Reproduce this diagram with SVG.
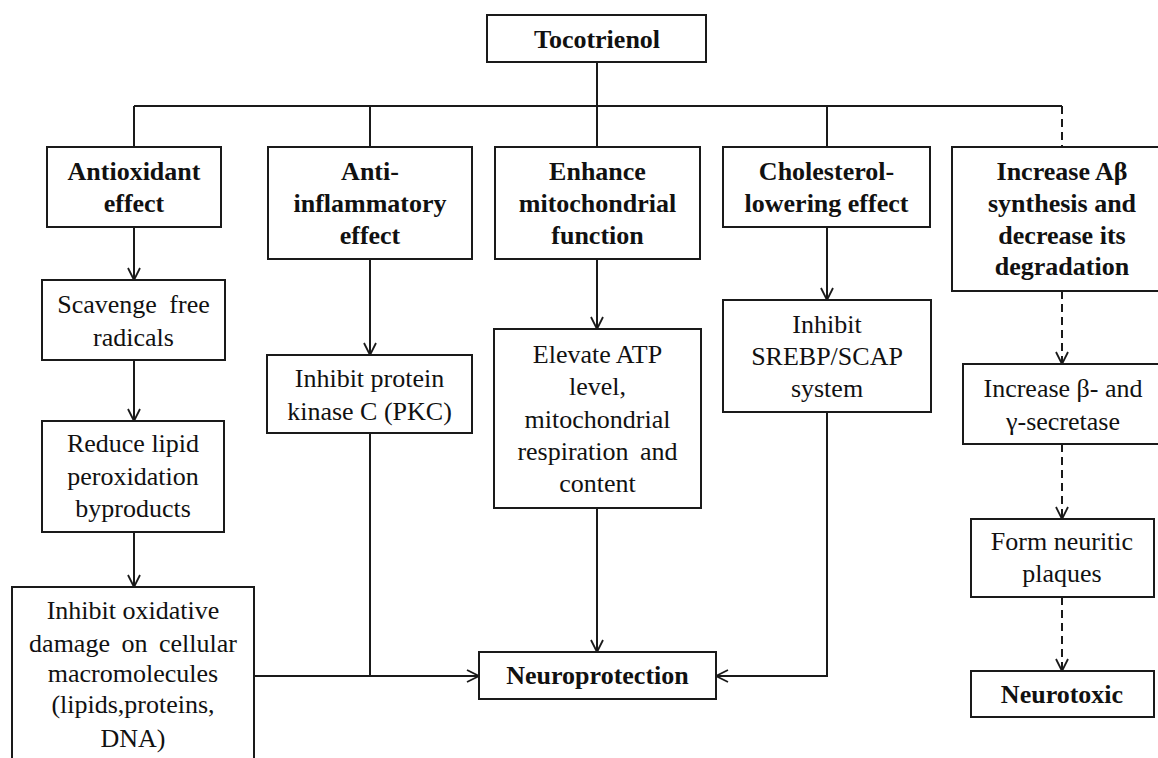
<svg xmlns="http://www.w3.org/2000/svg" width="1158" height="758" viewBox="0 0 1158 758">
  <style>
    .box { fill: #ffffff; stroke: #1a1a1a; stroke-width: 2; }
    .t { font-family: "Liberation Serif", "Times New Roman", serif; font-size: 26px; fill: #111; text-anchor: middle; }
    .b { font-weight: bold; }
    .ln { fill: none; stroke: #1a1a1a; stroke-width: 2; }
    .dash { stroke-dasharray: 8 5; }
  </style>
  <defs>
    <marker id="arr" viewBox="0 0 14 14" refX="13" refY="7" markerWidth="14" markerHeight="14" orient="auto" markerUnits="userSpaceOnUse">
      <path d="M1,1 L13,7 L1,13" fill="none" stroke="#1a1a1a" stroke-width="1.8" stroke-dasharray="none"/>
    </marker>
  </defs>
  <rect width="1158" height="758" fill="#ffffff"/>

  <g id="connectors">
    <path class="ln" d="M597,62 V106"/>
    <path class="ln" d="M134,106 H1062"/>
    <path class="ln" d="M134,106 V147"/>
    <path class="ln" d="M370,106 V147"/>
    <path class="ln" d="M597,106 V147"/>
    <path class="ln" d="M827,106 V147"/>
    <path class="ln dash" d="M1062,106 V147"/>
    <path class="ln" d="M134,227 V280" marker-end="url(#arr)"/>
    <path class="ln" d="M134,360 V421" marker-end="url(#arr)"/>
    <path class="ln" d="M134,532 V587" marker-end="url(#arr)"/>
    <path class="ln" d="M370,259 V355" marker-end="url(#arr)"/>
    <path class="ln" d="M370,433 V676"/>
    <path class="ln" d="M254,676 H479" marker-end="url(#arr)"/>
    <path class="ln" d="M597,259 V329" marker-end="url(#arr)"/>
    <path class="ln" d="M597,508 V652" marker-end="url(#arr)"/>
    <path class="ln" d="M827,227 V300" marker-end="url(#arr)"/>
    <path class="ln" d="M827,412 V676 H716" marker-end="url(#arr)"/>
    <path class="ln dash" d="M1062,291 V364" marker-end="url(#arr)"/>
    <path class="ln dash" d="M1062,444 V519" marker-end="url(#arr)"/>
    <path class="ln dash" d="M1062,597 V671" marker-end="url(#arr)"/>
  </g>

  <g id="tocotrienol">
    <rect class="box" x="487" y="15" width="219" height="47"/>
    <text class="t b" x="597" y="48">Tocotrienol</text>
  </g>

  <g id="antioxidant">
    <rect class="box" x="47" y="147" width="174" height="80"/>
    <text class="t b" x="134" y="180">Antioxidant</text>
    <text class="t b" x="134" y="212">effect</text>
  </g>

  <g id="antiinflammatory">
    <rect class="box" x="268" y="147" width="204" height="112"/>
    <text class="t b" x="370" y="180">Anti-</text>
    <text class="t b" x="370" y="212">inflammatory</text>
    <text class="t b" x="370" y="243.5">effect</text>
  </g>

  <g id="enhance">
    <rect class="box" x="495" y="147" width="205" height="112"/>
    <text class="t b" x="597.5" y="180">Enhance</text>
    <text class="t b" x="597.5" y="212">mitochondrial</text>
    <text class="t b" x="597.5" y="243.5">function</text>
  </g>

  <g id="cholesterol">
    <rect class="box" x="723" y="147" width="207" height="80"/>
    <text class="t b" x="826.5" y="180">Cholesterol-</text>
    <text class="t b" x="826.5" y="212">lowering effect</text>
  </g>

  <g id="abeta">
    <rect class="box" x="952" y="147" width="220" height="144"/>
    <text class="t b" x="1062" y="180">Increase Aβ</text>
    <text class="t b" x="1062" y="212">synthesis and</text>
    <text class="t b" x="1062" y="243.5">decrease its</text>
    <text class="t b" x="1062" y="275">degradation</text>
  </g>

  <g id="scavenge">
    <rect class="box" x="42" y="280" width="183" height="80"/>
    <text class="t" x="133.5" y="313" word-spacing="6">Scavenge free</text>
    <text class="t" x="133.5" y="346">radicals</text>
  </g>

  <g id="reduce">
    <rect class="box" x="42" y="421" width="182" height="111"/>
    <text class="t" x="133" y="452">Reduce lipid</text>
    <text class="t" x="133" y="485">peroxidation</text>
    <text class="t" x="133" y="517">byproducts</text>
  </g>

  <g id="inhibit-oxidative">
    <rect class="box" x="12" y="587" width="242" height="180"/>
    <text class="t" x="133" y="619">Inhibit oxidative</text>
    <text class="t" x="133" y="651.5" word-spacing="5">damage on cellular</text>
    <text class="t" x="133" y="682">macromolecules</text>
    <text class="t" x="133" y="713">(lipids,proteins,</text>
    <text class="t" x="133" y="746.5">DNA)</text>
  </g>

  <g id="pkc">
    <rect class="box" x="267" y="355" width="205" height="78"/>
    <text class="t" x="369.5" y="387">Inhibit protein</text>
    <text class="t" x="369.5" y="420">kinase C (PKC)</text>
  </g>

  <g id="elevate">
    <rect class="box" x="494" y="329" width="207" height="179"/>
    <text class="t" x="597.5" y="363">Elevate ATP</text>
    <text class="t" x="597.5" y="395">level,</text>
    <text class="t" x="597.5" y="428">mitochondrial</text>
    <text class="t" x="597.5" y="460" word-spacing="5">respiration and</text>
    <text class="t" x="597.5" y="492">content</text>
  </g>

  <g id="srebp">
    <rect class="box" x="723" y="300" width="208" height="112"/>
    <text class="t" x="827" y="333">Inhibit</text>
    <text class="t" x="827" y="365">SREBP/SCAP</text>
    <text class="t" x="827" y="397">system</text>
  </g>

  <g id="secretase">
    <rect class="box" x="963" y="364" width="200" height="80"/>
    <text class="t" x="1063" y="397">Increase β- and</text>
    <text class="t" x="1063" y="430">γ-secretase</text>
  </g>

  <g id="plaques">
    <rect class="box" x="971" y="519" width="183" height="78"/>
    <text class="t" x="1062" y="550">Form neuritic</text>
    <text class="t" x="1062" y="582">plaques</text>
  </g>

  <g id="neurotoxic">
    <rect class="box" x="971" y="671" width="183" height="46"/>
    <text class="t b" x="1062" y="703">Neurotoxic</text>
  </g>

  <g id="neuroprotection">
    <rect class="box" x="479" y="652" width="237" height="47"/>
    <text class="t b" x="597.5" y="684">Neuroprotection</text>
  </g>
</svg>
